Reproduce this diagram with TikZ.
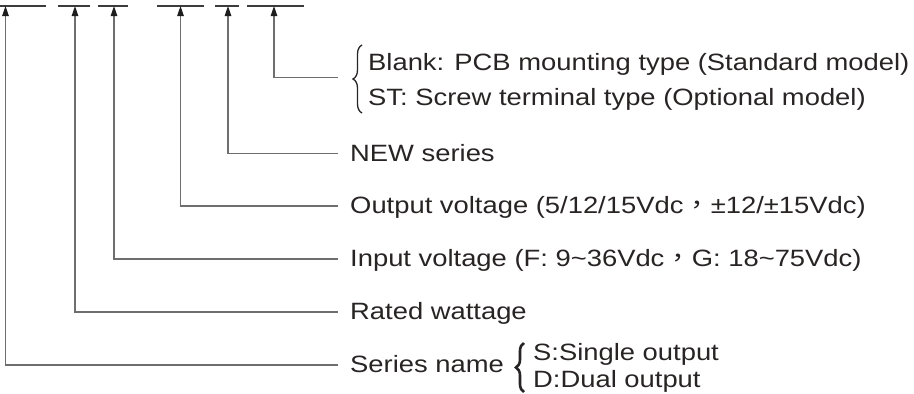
\documentclass[tikz,border=0pt]{standalone}
\usepackage{fontspec}
\setmainfont{Liberation Sans}[FakeStretch=1.16]
\newfontfamily\cjk{Noto Sans CJK TC}[FakeStretch=1.16]
\usetikzlibrary{arrows.meta,decorations.pathreplacing}
\definecolor{txt}{RGB}{40,36,36}
\definecolor{ln}{RGB}{110,110,110}
\definecolor{seg}{RGB}{60,60,60}
\definecolor{tipc}{RGB}{30,30,30}
\begin{document}
\begin{tikzpicture}[x=1pt,y=-1pt,
  lbl/.style={anchor=base west,inner sep=0pt,text=txt,font=\fontsize{23.6}{28}\selectfont},
  conn/.style={draw=ln,line width=1.2pt,-{Triangle[length=10pt,width=6.5pt,color=tipc,fill=tipc]}},
  topseg/.style={draw=seg,line width=1.3pt},
  bracethin/.style={draw=txt,line width=1.3pt,decorate,decoration={brace,amplitude=9pt}},
  bracethick/.style={draw=txt,line width=2.6pt,decorate,decoration={brace,amplitude=8pt}}]
\useasboundingbox (0,0) rectangle (914,394);
% top segments of the model code
\draw[topseg] (0,6) -- (46,6);
\draw[topseg] (58,6) -- (90,6);
\draw[topseg] (98,6) -- (128,6);
\draw[topseg] (157,6) -- (204,6);
\draw[topseg] (215,6) -- (239,6);
\draw[topseg] (247,6) -- (304,6);
\coordinate (t1) at (5.5,6);
\coordinate (t2) at (75,6);
\coordinate (t3) at (114,6);
\coordinate (t4) at (180.5,6);
\coordinate (t5) at (228,6);
\coordinate (t6) at (274,6);
% labels
\node[lbl] (blank) at (368,70) {Blank: PCB mounting type (Standard model)};
\node[lbl] (st) at (368,105) {ST: Screw terminal type (Optional model)};
\node[lbl] (new) at (350,161) {NEW series};
\node[lbl] (out) at (350,213.5) {Output voltage (5/12/15Vdc{\cjk ，}±12/±15Vdc)};
\node[lbl] (in) at (350,266.5) {Input voltage (F: 9\textasciitilde36Vdc{\cjk ，}G: 18\textasciitilde75Vdc)};
\node[lbl] (rated) at (350,319.5) {Rated wattage};
\node[lbl] (series) at (350,372.5) {Series name};
\node[lbl] (single) at (533,360) {S:Single output};
\node[lbl] (dual) at (533,387) {D:Dual output};
% braces
\draw[bracethin] (362,113) -- (362,45);
\draw[bracethick] (524,392) -- (524,343);
% connector ends
\coordinate (e6) at (338,77.7);
\coordinate (e5) at (338,153.3);
\coordinate (e4) at (338,206);
\coordinate (e3) at (338,259);
\coordinate (e2) at (338,312);
\coordinate (e1) at (338,365);
\draw[conn] (e6) -| (t6);
\draw[conn] (e5) -| (t5);
\draw[conn] (e4) -| (t4);
\draw[conn] (e3) -| (t3);
\draw[conn] (e2) -| (t2);
\draw[conn] (e1) -| (t1);
\end{tikzpicture}
\end{document}
